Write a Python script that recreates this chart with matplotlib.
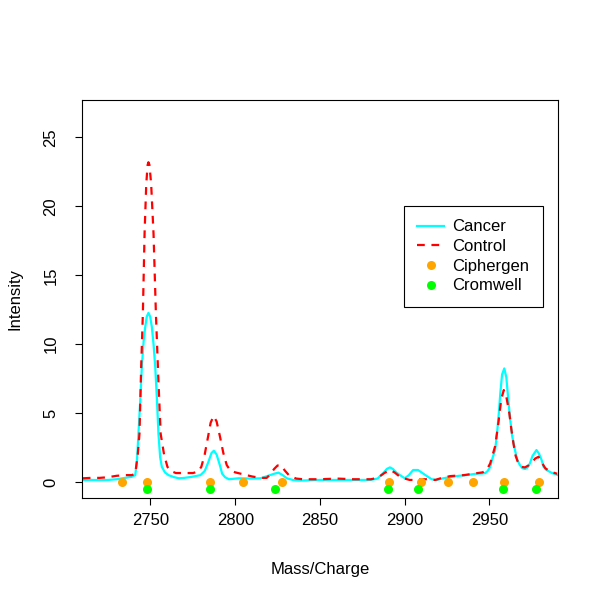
import matplotlib
matplotlib.use("Agg")
import matplotlib.pyplot as plt
from matplotlib.lines import Line2D

plt.rcParams['font.family'] = ['Liberation Sans', 'DejaVu Sans']

# --- spectra (mass/charge, intensity) ---
control_mz = [2710, 2715, 2720, 2725, 2730, 2735, 2739, 2741, 2742.5, 2743.5,
              2744.5, 2745.5, 2746.5, 2747.5, 2748.3, 2748.8, 2749.4, 2750.4, 2751.8, 2753.2,
              2754.7, 2756, 2758, 2760, 2762, 2765, 2770, 2775, 2778, 2780,
              2782, 2784, 2785.5, 2787.2, 2789, 2791, 2793, 2795, 2797, 2800,
              2805, 2810, 2815, 2818.6, 2821, 2823, 2825, 2827, 2829.5, 2832,
              2836, 2840, 2850, 2860, 2870, 2880, 2884, 2888, 2891.3, 2894,
              2897, 2900, 2903, 2907, 2910, 2913, 2918, 2922, 2927, 2935,
              2942, 2946, 2948.5, 2950.5, 2952, 2953.4, 2955.4, 2957, 2958.5, 2960,
              2961.8, 2963, 2964.2, 2965.5, 2967.1, 2969, 2971, 2973, 2975, 2977,
              2979, 2981, 2983, 2986, 2990]
control_int = [0.27, 0.3, 0.3, 0.35, 0.45, 0.5, 0.5, 0.6, 2.0, 3.5,
               8.36, 12.2, 18.0, 21.6, 23.0, 23.2, 23.0, 21.6, 18.0, 12.2,
               7.3, 3.5, 2.0, 1.1, 0.8, 0.65, 0.65, 0.65, 0.75, 1.1,
               2.0, 3.3, 4.3, 4.78, 4.4, 3.3, 2.1, 1.23, 0.85, 0.7,
               0.55, 0.4, 0.3, 0.3, 0.6, 0.95, 1.2, 1.2, 0.8, 0.45,
               0.25, 0.2, 0.2, 0.25, 0.2, 0.2, 0.3, 0.65, 0.87, 0.7,
               0.4, 0.25, 0.15, 0.15, 0.2, 0.2, 0.15, 0.3, 0.43, 0.5,
               0.63, 0.7, 0.9, 1.35, 2.0, 2.6, 4.37, 6.0, 6.67, 6.2,
               4.97, 3.8, 2.8, 1.9, 1.35, 1.1, 1.06, 1.2, 1.4, 1.7,
               1.83, 1.4, 1.0, 0.75, 0.6]

cancer_mz = [2710, 2715, 2720, 2725, 2730, 2735, 2739, 2741, 2742, 2742.9,
             2744, 2744.9, 2746, 2746.9, 2747.8, 2748.8, 2749.8, 2750.8, 2751.8, 2752.8,
             2753.8, 2754.7, 2755.7, 2756.7, 2758.5, 2760.6, 2764, 2766.8, 2770, 2774.6,
             2779.5, 2782, 2784, 2786, 2787.4, 2789, 2791, 2792.3, 2794, 2796.3,
             2802, 2810, 2815, 2820.6, 2823, 2825.5, 2828, 2830.5, 2834, 2838.3,
             2850, 2860, 2870, 2880, 2884, 2887, 2889.5, 2891.3, 2893, 2895,
             2897.2, 2900.1, 2902.5, 2905, 2907.9, 2910.5, 2913.1, 2916, 2918.9, 2922,
             2926.8, 2932, 2936.7, 2942, 2946, 2947.6, 2949, 2950.5, 2952, 2953.4,
             2954.5, 2955.4, 2956.5, 2957.5, 2958.8, 2960, 2961, 2962.1, 2963.5, 2965.1,
             2966.5, 2968, 2969.5, 2971, 2972.5, 2973.9, 2975.5, 2977.8, 2979.3, 2980.8,
             2982, 2983.7, 2987, 2990.5]
cancer_int = [0.14, 0.15, 0.14, 0.15, 0.2, 0.3, 0.38, 0.5, 1.5, 3.5,
              6.0, 8.36, 10.3, 11.25, 12.0, 12.27, 12.0, 11.25, 10.0, 8.36,
              6.0, 3.5, 1.8, 1.1, 0.7, 0.5, 0.35, 0.27, 0.3, 0.38,
              0.5, 0.8, 1.4, 2.1, 2.27, 2.0, 1.2, 0.6, 0.35, 0.2,
              0.27, 0.25, 0.27, 0.5, 0.6, 0.68, 0.5, 0.27, 0.15, 0.1,
              0.15, 0.15, 0.15, 0.15, 0.25, 0.6, 0.95, 1.06, 0.95, 0.7,
              0.5, 0.27, 0.5, 0.87, 0.87, 0.65, 0.43, 0.2, 0.14, 0.25,
              0.36, 0.45, 0.5, 0.6, 0.62, 0.65, 0.8, 1.1, 1.8, 2.32,
              3.5, 4.73, 6.5, 7.8, 8.24, 7.6, 6.2, 4.73, 3.3, 2.32,
              1.6, 1.23, 1.0, 0.94, 1.05, 1.35, 1.9, 2.32, 2.05, 1.6,
              1.1, 0.87, 0.65, 0.5]

# peak locations found by the two methods
ciphergen_mz = [2732.9, 2747.9, 2785.2, 2804.7, 2827.9, 2890.8, 2909.5,
                2925.8, 2940.6, 2958.8, 2979.5]
ciphergen_y = [0] * len(ciphergen_mz)
cromwell_mz = [2747.9, 2785.4, 2823.7, 2890.4, 2908.1, 2958.3, 2977.4]
cromwell_y = [-0.5] * len(cromwell_mz)

FS = 12

fig = plt.figure(figsize=(6, 6), dpi=100)
ax = fig.add_axes([0.137, 0.17, 0.793, 0.663])

ax.plot(cancer_mz, cancer_int, color="#00FFFF", lw=1.6)
ax.plot(control_mz, control_int, color="#FF0000", lw=1.6, dashes=(3.5, 3))
ax.plot(ciphergen_mz, ciphergen_y, 'o', color="#FFA500", ms=6.5, mec='none')
ax.plot(cromwell_mz, cromwell_y, 'o', color="#00FF00", ms=6.5, mec='none')

ax.set_xlim(2709.7, 2990.5)
ax.set_ylim(-1.16, 27.7)
ax.set_xticks([2750, 2800, 2850, 2900, 2950])
ax.set_yticks([0, 5, 10, 15, 20, 25])
ax.tick_params(direction='out', length=5, width=0.8, labelsize=FS)
ax.tick_params(axis='x', pad=6)
ax.tick_params(axis='y', pad=12)
for lab in ax.get_yticklabels():
    lab.set_rotation(90)
    lab.set_va('center')
for s in ax.spines.values():
    s.set_linewidth(0.8)

ax.set_xlabel("Mass/Charge", fontsize=FS, labelpad=24)
ax.set_ylabel("Intensity", fontsize=FS, labelpad=15)

handles = [Line2D([], [], color="#00FFFF", lw=1.6),
           Line2D([], [], color="#FF0000", lw=1.6, dashes=(3.5, 3)),
           Line2D([], [], ls='none', marker='o', color="#FFA500", ms=6.5, mec='none'),
           Line2D([], [], ls='none', marker='o', color="#00FF00", ms=6.5, mec='none')]
leg = ax.legend(handles, ["Cancer", "Control", "Ciphergen", "Cromwell"],
                loc='upper left', bbox_to_anchor=(0.676, 0.734), fontsize=FS,
                frameon=True, fancybox=False, edgecolor='black', framealpha=1,
                handlelength=1.6, labelspacing=0.28, borderpad=0.8, handletextpad=0.5,
                borderaxespad=0)
leg.get_frame().set_linewidth(0.8)

fig.savefig("out.png", dpi=100)
